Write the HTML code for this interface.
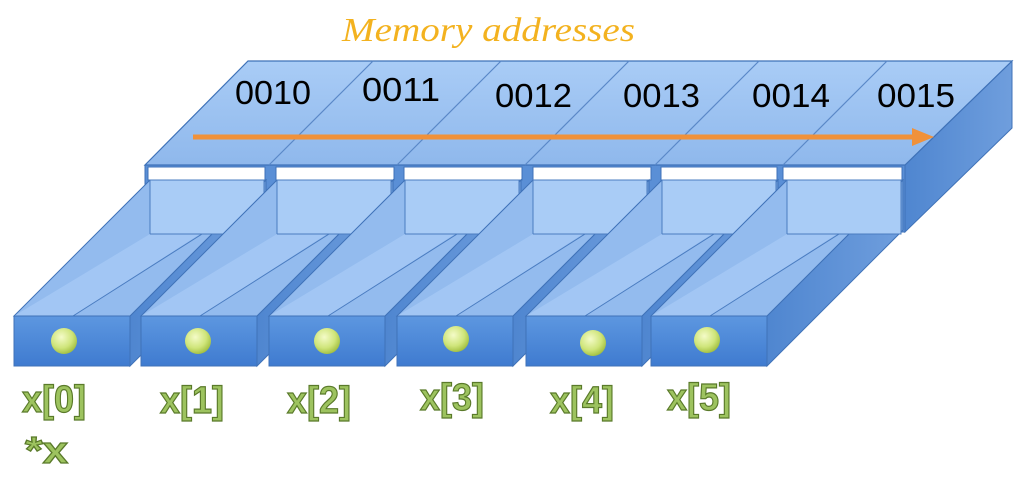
<!DOCTYPE html>
<html><head><meta charset="utf-8"><style>
html,body{margin:0;padding:0;background:#fff}
svg{display:block}
</style></head><body>
<svg width="1024" height="485" viewBox="0 0 1024 485" xmlns="http://www.w3.org/2000/svg">
<defs>
<linearGradient id="top" x1="0" y1="0" x2="0" y2="1"><stop offset="0" stop-color="#a9ccf6"/><stop offset="1" stop-color="#8fb8ec"/></linearGradient>
<linearGradient id="front" x1="0" y1="0" x2="0" y2="1"><stop offset="0" stop-color="#5d97e0"/><stop offset="1" stop-color="#3f7bd0"/></linearGradient>
<linearGradient id="side" x1="0" y1="0" x2="1" y2="0"><stop offset="0" stop-color="#4f86d0"/><stop offset="1" stop-color="#6f9edd"/></linearGradient>
<radialGradient id="ball" cx="0.4" cy="0.35" r="0.7"><stop offset="0" stop-color="#f4fbc8"/><stop offset="0.6" stop-color="#cfe57a"/><stop offset="1" stop-color="#9dbb3a"/></radialGradient>
</defs>
<text x="342" y="41" font-family="Liberation Serif, serif" font-style="italic" font-size="34" fill="#f3b21f" textLength="293" lengthAdjust="spacingAndGlyphs">Memory addresses</text>
<polygon points="905,165 1012,61 1012,128 905,232" fill="url(#side)" stroke="#3f72b8"/>
<polygon points="145,165 905,165 905,232 145,232" fill="#5a8fd6" stroke="#3f72b8"/>
<polygon points="248,61 1012,61 905,165 145,165" fill="url(#top)" stroke="#3f72b8" stroke-width="1.2"/>
<g stroke="#5a88c8" stroke-width="1.2">
<line x1="269" y1="165" x2="373" y2="61"/>
<line x1="397" y1="165" x2="501" y2="61"/>
<line x1="525" y1="165" x2="629" y2="61"/>
<line x1="655" y1="165" x2="759" y2="61"/>
<line x1="783" y1="165" x2="887" y2="61"/>
</g>
<g fill="#fff" stroke="#3f72b8">
<rect x="148" y="167" width="117" height="13"/>
<rect x="276" y="167" width="118" height="13"/>
<rect x="404" y="167" width="118" height="13"/>
<rect x="533" y="167" width="118" height="13"/>
<rect x="661" y="167" width="116" height="13"/>
<rect x="783" y="167" width="119" height="13"/>
</g>
<g font-family="Liberation Sans, sans-serif" font-size="33" fill="#000">
<text x="235" y="104" textLength="76" lengthAdjust="spacingAndGlyphs">0010</text>
<text x="362" y="101" textLength="78" lengthAdjust="spacingAndGlyphs">0011</text>
<text x="495" y="107" textLength="77" lengthAdjust="spacingAndGlyphs">0012</text>
<text x="623" y="107" textLength="77" lengthAdjust="spacingAndGlyphs">0013</text>
<text x="752" y="107" textLength="78" lengthAdjust="spacingAndGlyphs">0014</text>
<text x="877" y="107" textLength="78" lengthAdjust="spacingAndGlyphs">0015</text>
</g>
<line x1="193" y1="137" x2="915" y2="137" stroke="#f0913a" stroke-width="5"/>
<polygon points="912,128 934,137 912,146" fill="#f0913a"/>

<g transform="translate(14,316)">
<polygon points="116,0 252,-136 252,-86 116,50" fill="url(#side)" stroke="#3f72b8"/>
<polygon points="0,0 116,0 252,-136 136,-136" fill="#93bbee" stroke="#3f72b8"/>
<rect x="136" y="-136" width="114" height="54" fill="#a9ccf6" stroke="#4a7cc0"/>
<polygon points="136,-82 186,-82 59,0 0,0" fill="#a2c6f4"/>
<polyline points="136,-82 188,-82 59,0" fill="none" stroke="#4a7cc0"/>
<rect x="0" y="0" width="116" height="50" fill="url(#front)" stroke="#3f72b8"/>
</g>
<g transform="translate(141,316)">
<polygon points="116,0 252,-136 252,-86 116,50" fill="url(#side)" stroke="#3f72b8"/>
<polygon points="0,0 116,0 252,-136 136,-136" fill="#93bbee" stroke="#3f72b8"/>
<rect x="136" y="-136" width="114" height="54" fill="#a9ccf6" stroke="#4a7cc0"/>
<polygon points="136,-82 186,-82 59,0 0,0" fill="#a2c6f4"/>
<polyline points="136,-82 188,-82 59,0" fill="none" stroke="#4a7cc0"/>
<rect x="0" y="0" width="116" height="50" fill="url(#front)" stroke="#3f72b8"/>
</g>
<g transform="translate(269,316)">
<polygon points="116,0 252,-136 252,-86 116,50" fill="url(#side)" stroke="#3f72b8"/>
<polygon points="0,0 116,0 252,-136 136,-136" fill="#93bbee" stroke="#3f72b8"/>
<rect x="136" y="-136" width="114" height="54" fill="#a9ccf6" stroke="#4a7cc0"/>
<polygon points="136,-82 186,-82 59,0 0,0" fill="#a2c6f4"/>
<polyline points="136,-82 188,-82 59,0" fill="none" stroke="#4a7cc0"/>
<rect x="0" y="0" width="116" height="50" fill="url(#front)" stroke="#3f72b8"/>
</g>
<g transform="translate(397,316)">
<polygon points="116,0 252,-136 252,-86 116,50" fill="url(#side)" stroke="#3f72b8"/>
<polygon points="0,0 116,0 252,-136 136,-136" fill="#93bbee" stroke="#3f72b8"/>
<rect x="136" y="-136" width="114" height="54" fill="#a9ccf6" stroke="#4a7cc0"/>
<polygon points="136,-82 186,-82 59,0 0,0" fill="#a2c6f4"/>
<polyline points="136,-82 188,-82 59,0" fill="none" stroke="#4a7cc0"/>
<rect x="0" y="0" width="116" height="50" fill="url(#front)" stroke="#3f72b8"/>
</g>
<g transform="translate(526,316)">
<polygon points="116,0 252,-136 252,-86 116,50" fill="url(#side)" stroke="#3f72b8"/>
<polygon points="0,0 116,0 252,-136 136,-136" fill="#93bbee" stroke="#3f72b8"/>
<rect x="136" y="-136" width="114" height="54" fill="#a9ccf6" stroke="#4a7cc0"/>
<polygon points="136,-82 186,-82 59,0 0,0" fill="#a2c6f4"/>
<polyline points="136,-82 188,-82 59,0" fill="none" stroke="#4a7cc0"/>
<rect x="0" y="0" width="116" height="50" fill="url(#front)" stroke="#3f72b8"/>
</g>
<g transform="translate(651,316)">
<polygon points="116,0 252,-136 252,-86 116,50" fill="url(#side)" stroke="#3f72b8"/>
<polygon points="0,0 116,0 252,-136 136,-136" fill="#93bbee" stroke="#3f72b8"/>
<rect x="136" y="-136" width="114" height="54" fill="#a9ccf6" stroke="#4a7cc0"/>
<polygon points="136,-82 186,-82 59,0 0,0" fill="#a2c6f4"/>
<polyline points="136,-82 188,-82 59,0" fill="none" stroke="#4a7cc0"/>
<rect x="0" y="0" width="116" height="50" fill="url(#front)" stroke="#3f72b8"/>
</g>

<g fill="url(#ball)">
<circle cx="64" cy="341" r="13"/>
<circle cx="198" cy="341" r="13"/>
<circle cx="327" cy="341" r="13"/>
<circle cx="456" cy="339" r="13"/>
<circle cx="593" cy="343" r="13"/>
<circle cx="707" cy="340" r="13"/>
</g>
<g font-family="Liberation Sans, sans-serif" font-weight="bold" font-size="38" fill="#9dc35f" stroke="#5a7a2a" stroke-width="1.2">
<text x="22" y="412" textLength="64" lengthAdjust="spacingAndGlyphs">x[0]</text>
<text x="160" y="413" textLength="64" lengthAdjust="spacingAndGlyphs">x[1]</text>
<text x="287" y="413" textLength="64" lengthAdjust="spacingAndGlyphs">x[2]</text>
<text x="420" y="410" textLength="64" lengthAdjust="spacingAndGlyphs">x[3]</text>
<text x="550" y="413" textLength="64" lengthAdjust="spacingAndGlyphs">x[4]</text>
<text x="667" y="410" textLength="64" lengthAdjust="spacingAndGlyphs">x[5]</text>
<text x="25" y="463" textLength="43" lengthAdjust="spacingAndGlyphs">*x</text>
</g>
</svg>
</body></html>
